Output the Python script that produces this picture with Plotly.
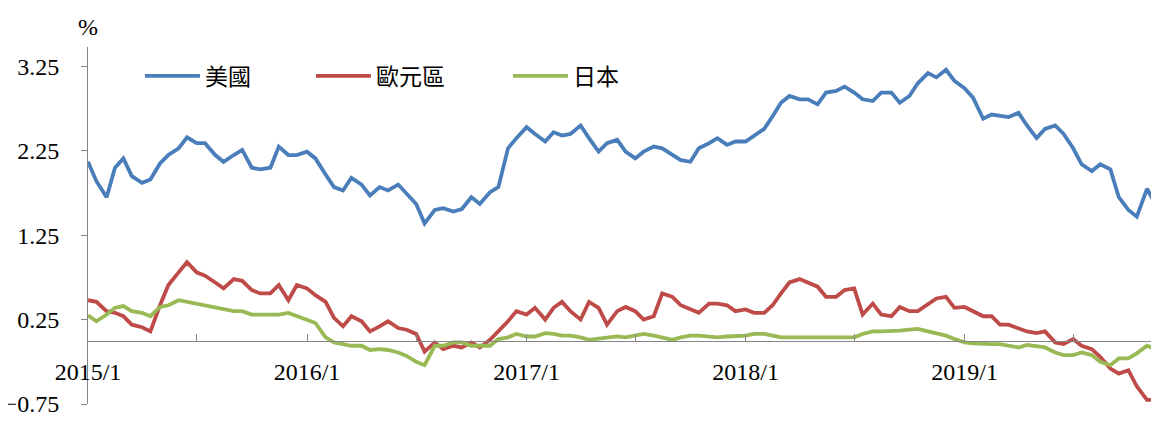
import pandas as pd
import plotly.graph_objects as go

# semi-monthly observation dates (1st and 15th), Jan 2015 - Nov 2019
dates = pd.date_range(start="2015-01-01", periods=118, freq="SMS")

us = [2.12, 1.89, 1.70, 2.05, 2.16, 1.95, 1.87, 1.91, 2.10, 2.20,
      2.28, 2.41, 2.34, 2.34, 2.20, 2.12, 2.20, 2.26, 2.05, 2.03,
      2.05, 2.30, 2.20, 2.20, 2.24, 2.16, 1.97, 1.82, 1.78, 1.93,
      1.85, 1.72, 1.82, 1.78, 1.85, 1.74, 1.62, 1.39, 1.55, 1.57,
      1.53, 1.56, 1.70, 1.62, 1.76, 1.82, 2.28, 2.40, 2.53, 2.45,
      2.36, 2.47, 2.43, 2.45, 2.55, 2.40, 2.24, 2.34, 2.38, 2.24,
      2.16, 2.24, 2.30, 2.28, 2.20, 2.14, 2.12, 2.28, 2.34, 2.40,
      2.32, 2.36, 2.36, 2.43, 2.51, 2.66, 2.82, 2.90, 2.86, 2.86,
      2.80, 2.94, 2.96, 3.01, 2.94, 2.86, 2.84, 2.94, 2.94, 2.82,
      2.90, 3.05, 3.17, 3.12, 3.21, 3.08, 2.99, 2.88, 2.63, 2.68,
      2.66, 2.65, 2.70, 2.55, 2.40, 2.51, 2.55, 2.45, 2.28, 2.09,
      2.01, 2.09, 2.03, 1.70, 1.55, 1.47, 1.80, 1.62]

eu = [0.48, 0.46, 0.35, 0.33, 0.29, 0.19, 0.16, 0.11, 0.42, 0.66,
      0.81, 0.93, 0.81, 0.77, 0.69, 0.62, 0.73, 0.71, 0.60, 0.56,
      0.56, 0.66, 0.48, 0.66, 0.62, 0.54, 0.46, 0.27, 0.17, 0.29,
      0.23, 0.11, 0.17, 0.23, 0.15, 0.13, 0.08, -0.13, -0.02, -0.10,
      -0.06, -0.08, -0.02, -0.08, 0.01, 0.11, 0.23, 0.35, 0.31, 0.39,
      0.25, 0.39, 0.46, 0.35, 0.25, 0.46, 0.39, 0.19, 0.35, 0.40,
      0.35, 0.25, 0.29, 0.56, 0.52, 0.42, 0.37, 0.33, 0.44, 0.44,
      0.42, 0.35, 0.37, 0.33, 0.33, 0.42, 0.56, 0.69, 0.73, 0.69,
      0.64, 0.52, 0.52, 0.60, 0.62, 0.31, 0.44, 0.31, 0.29, 0.40,
      0.35, 0.35, 0.44, 0.50, 0.52, 0.39, 0.40, 0.35, 0.29, 0.29,
      0.19, 0.19, 0.15, 0.11, 0.09, 0.11, -0.02, -0.04, 0.02, -0.06,
      -0.10, -0.19, -0.33, -0.39, -0.35, -0.54, -0.70, -0.70]

jp = [0.30, 0.23, 0.31, 0.39, 0.41, 0.35, 0.33, 0.29, 0.40, 0.42,
      0.48, 0.46, 0.44, 0.41, 0.39, 0.37, 0.35, 0.35, 0.31, 0.31,
      0.31, 0.31, 0.33, 0.29, 0.25, 0.21, 0.04, -0.02, -0.04, -0.06,
      -0.06, -0.11, -0.10, -0.11, -0.14, -0.18, -0.25, -0.29, -0.06, -0.06,
      -0.02, -0.02, -0.06, -0.06, -0.06, 0.02, 0.04, 0.08, 0.05, 0.05,
      0.09, 0.08, 0.06, 0.06, 0.04, 0.01, 0.02, 0.04, 0.05, 0.04,
      0.06, 0.08, 0.06, 0.04, 0.01, 0.04, 0.06, 0.06, 0.05, 0.04,
      0.05, 0.05, 0.06, 0.08, 0.08, 0.06, 0.04, 0.04, 0.04, 0.03,
      0.04, 0.03, 0.04, 0.04, 0.04, 0.08, 0.11, 0.11, 0.11, 0.12,
      0.13, 0.14, 0.11, 0.09, 0.06, 0.02, -0.02, -0.03, -0.04, -0.04,
      -0.04, -0.06, -0.08, -0.05, -0.06, -0.08, -0.14, -0.17, -0.17, -0.14,
      -0.17, -0.25, -0.29, -0.21, -0.21, -0.15, -0.06, -0.10]

series_names = ["美國", "歐元區", "日本"]
series_colors = ["#4A7EBB", "#BE4B48", "#98B954"]
legend_widths = [101, 127, 80]

x_tickvals = ["2015-01-01", "2015-07-01", "2016-01-01", "2016-07-01",
              "2017-01-01", "2017-07-01", "2018-01-01", "2018-07-01",
              "2019-01-01", "2019-07-01"]
x_ticktext = ["2015/1", "", "2016/1", "", "2017/1", "", "2018/1", "", "2019/1", ""]

y_min, y_max = -0.75, 3.48

fig = go.Figure()
for name, vals, col, lw in zip(series_names, [us, eu, jp], series_colors, legend_widths):
    fig.add_trace(go.Scatter(x=dates, y=vals, mode="lines", name=name,
                             legendwidth=lw,
                             line=dict(color=col, width=3.8)))

serif = "Liberation Serif, Times New Roman, serif"
axis_col = "#868686"

# page body has an 8px default margin, so the figure is sized to fit inside it
fig.update_layout(
    width=1151, height=413,
    margin=dict(l=80, r=0, t=39, b=17, autoexpand=False),
    paper_bgcolor="white", plot_bgcolor="white",
    font=dict(family=serif, size=24, color="black"),
    showlegend=True,
    legend=dict(orientation="h", x=0.0485, y=0.919, xanchor="left", yanchor="middle",
                font=dict(family="Noto Sans CJK TC", size=23, color="black"),
                itemwidth=55, bgcolor="rgba(0,0,0,0)"),
    xaxis=dict(type="date", range=["2015-01-01", "2019-11-21"],
               anchor="free", position=(0 - y_min) / (y_max - y_min),
               automargin=False,
               showline=True, linecolor=axis_col, linewidth=1,
               ticks="inside", ticklen=7, tickcolor=axis_col,
               tickmode="array", tickvals=x_tickvals, ticktext=x_ticktext,
               tickfont=dict(family=serif, size=24, color="black"),
               ticklabelstandoff=9,
               showgrid=False, zeroline=False),
    yaxis=dict(range=[y_min, y_max], tick0=-0.75, dtick=1, tickformat=".2f",
               automargin=False, ticklabeloverflow="allow",
               showline=True, linecolor=axis_col, linewidth=1,
               ticks="outside", ticklen=6, tickcolor=axis_col,
               tickfont=dict(family=serif, size=24, color="black"),
               ticklabelstandoff=17,
               showgrid=False, zeroline=False),
    annotations=[dict(text="%", xref="paper", yref="paper", x=0, y=1.057,
                      xanchor="center", yanchor="middle", showarrow=False,
                      font=dict(family=serif, size=24, color="black"))],
)

fig.write_html("out.html")
